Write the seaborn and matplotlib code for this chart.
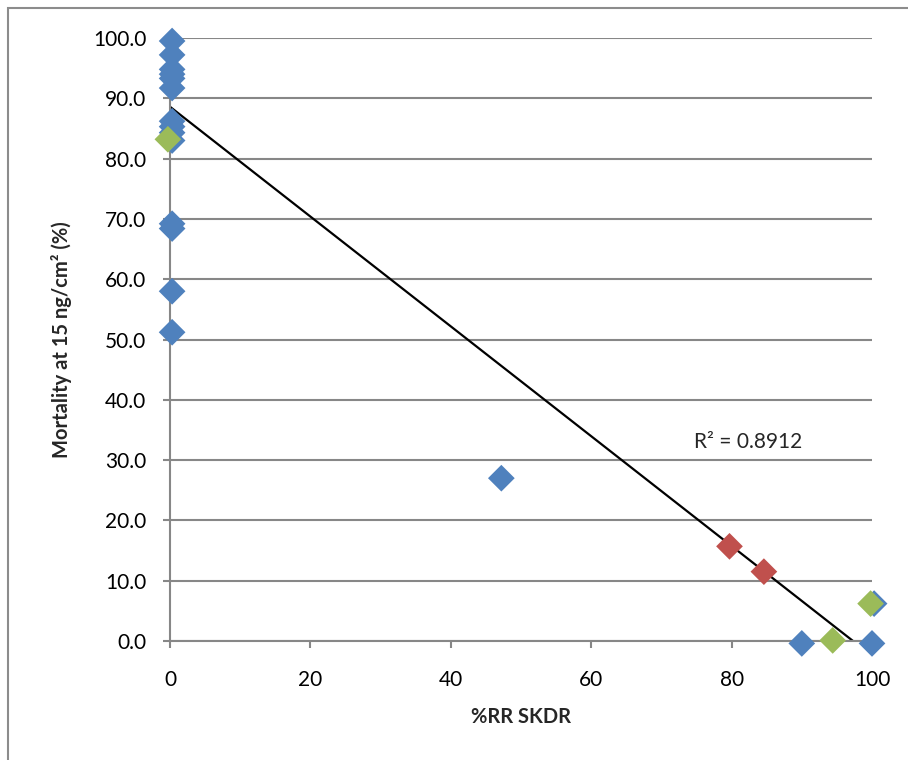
import matplotlib
matplotlib.use("Agg")
import matplotlib.pyplot as plt
import matplotlib.patches as mpatches
import numpy as np
import pandas as pd
import seaborn as sns

# values
blue_x = [0.3, 0.3, 0.3, 0.3, 0.3, 0.3, 0.3, 0.3, 0.3, 0.3, 0.3, 0.3, 0.3, 0.3,
          47.2, 90.0, 100.0, 100.3]
blue_y = [99.5, 97.2, 94.8, 94.0, 93.3, 91.7, 86.2, 85.3, 84.3, 83.0, 69.2, 68.4, 58.0, 51.2,
          27.0, -0.4, -0.4, 6.2]
red_x = [79.7, 84.6]
red_y = [15.7, 11.5]
green_x = [-0.3, 94.4, 99.8]
green_y = [83.2, 0.1, 6.2]

# trendline as shown in the chart (Excel linear trendline)
trend_intercept = 88.6
trend_slope = -0.9106
trend_x = [0, 100]
r2_text = "R² = 0.8912"

colors = {"blue": "#4F81BD", "red": "#C0504D", "green": "#9BBB59"}

df = pd.concat([
    pd.DataFrame({"x": blue_x, "y": blue_y, "grp": "blue"}),
    pd.DataFrame({"x": red_x, "y": red_y, "grp": "red"}),
    pd.DataFrame({"x": green_x, "y": green_y, "grp": "green"}),
], ignore_index=True)
trend = pd.DataFrame({"x": trend_x})
trend["y"] = trend_intercept + trend_slope * trend["x"]

sns.set_style("white")
plt.rcParams["font.family"] = ["Lato", "DejaVu Sans"]

fig = plt.figure(figsize=(9.08, 7.6), dpi=100)
ax = fig.add_axes([170 / 908, 1 - 641 / 760, 702 / 908, 603 / 760])

# chart frame (cut off at right and bottom like the screenshot)
fig.patches.append(mpatches.Rectangle((8 / 908, -0.1), 1.2, 1 - 8 / 760 + 0.1,
                                      transform=fig.transFigure, fill=False,
                                      edgecolor="#8c8c8c", linewidth=1.5))

sns.lineplot(data=trend, x="x", y="y", color="black", linewidth=1.6, ax=ax)

sns.scatterplot(data=df, x="x", y="y", hue="grp", palette=colors, marker="D",
                s=185, edgecolor="none", legend=False, ax=ax, zorder=3)
for c in ax.collections:
    c.set_clip_on(False)

ax.set_xlim(0, 100)
ax.set_ylim(0, 100)
ax.set_xticks(np.arange(0, 101, 20))
ax.set_yticks(np.arange(0, 101, 10))
ax.set_yticklabels([f"{v:.1f}" for v in np.arange(0, 101, 10)])
ax.grid(axis="y", color="#878787", linewidth=1.5)
ax.set_axisbelow(True)
for s in ["top", "right"]:
    ax.spines[s].set_visible(False)
ax.spines["left"].set_color("#878787")
ax.spines["left"].set_linewidth(1.5)
ax.spines["bottom"].set_color("#878787")
ax.spines["bottom"].set_linewidth(1.5)
ax.tick_params(axis="both", labelsize=15, colors="#878787", labelcolor="black",
               length=5, width=1.5, direction="out", left=True, bottom=True)
ax.tick_params(axis="x", pad=16)
ax.tick_params(axis="y", pad=12)

ax.set_xlabel("%RR SKDR", fontsize=14.5, fontweight="bold", labelpad=12)
ax.set_ylabel("Mortality at 15 ng/cm² (%)", fontsize=14.5, fontweight="bold", labelpad=15)

ax.text(74.6, 31.3, r2_text, fontsize=15, ha="left", va="bottom")

fig.savefig("out.png", dpi=100)
